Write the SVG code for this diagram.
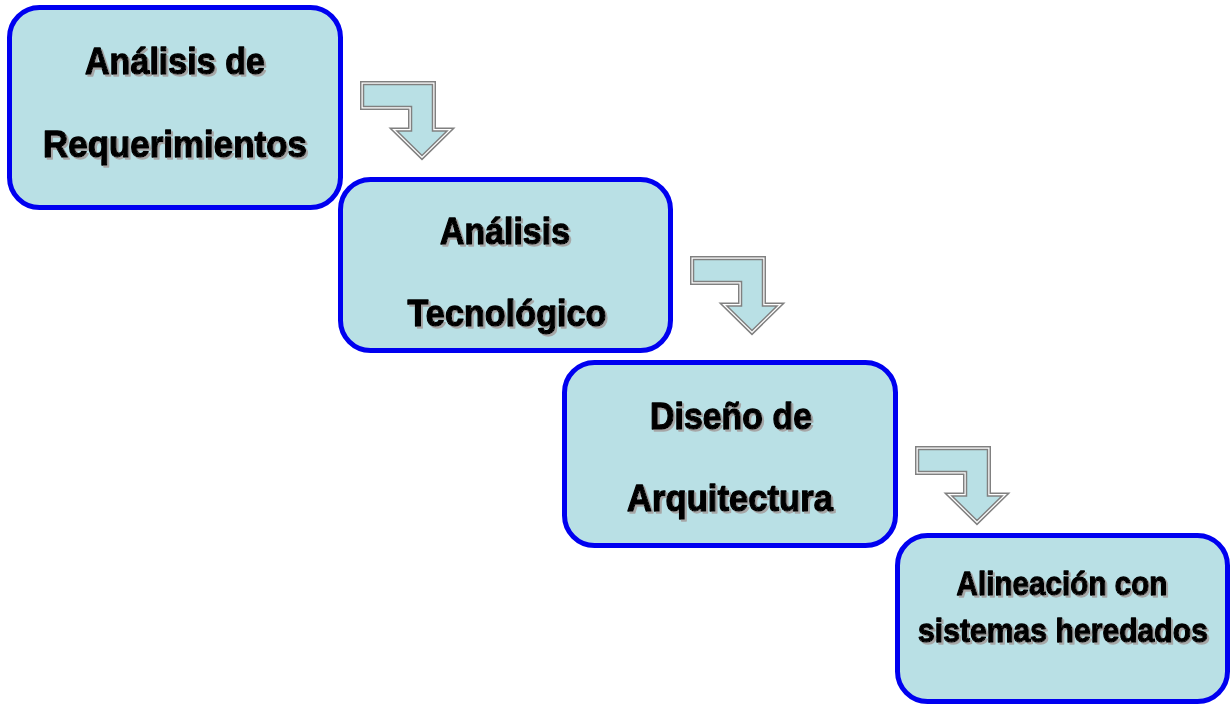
<svg xmlns="http://www.w3.org/2000/svg" width="1231" height="704" viewBox="0 0 1231 704">
<defs>
<filter id="sh" filterUnits="userSpaceOnUse" x="0" y="0" width="1231" height="704">
<feOffset in="SourceAlpha" dx="2" dy="2" result="o"/>
<feFlood flood-color="#a6a6a6"/>
<feComposite in2="o" operator="in" result="s"/>
<feMerge><feMergeNode in="s"/><feMergeNode in="SourceGraphic"/></feMerge>
</filter>
<path id="arr" d="M363.5,84.5 H432.5 V131 H447 L422,155.5 L397,131 H411.5 V106.5 H363.5 Z"/>
</defs>
<style>
.box{fill:#b9e0e5;stroke:#0000f0;stroke-width:5}
.lbl{filter:url(#sh)}
.t{font-family:"Liberation Sans",Arial,sans-serif;font-weight:bold;font-size:37px;fill:#000;stroke:#000;stroke-width:1.3;stroke-linejoin:round;text-anchor:middle}
.t4{font-size:34px}
.a1{fill:none;stroke:#808080;stroke-width:7;stroke-linejoin:miter}
.a2{fill:none;stroke:#ffffff;stroke-width:4;stroke-linejoin:miter}
.a3{fill:#b9e0e5;stroke:#808080;stroke-width:1.5;stroke-linejoin:miter}
</style>
<rect width="1231" height="704" fill="#ffffff"/>
<g id="connectors">
<g><use href="#arr" class="a1"/><use href="#arr" class="a2"/><use href="#arr" class="a3"/></g>
<g transform="translate(330,175)"><use href="#arr" class="a1"/><use href="#arr" class="a2"/><use href="#arr" class="a3"/></g>
<g transform="translate(555,365)"><use href="#arr" class="a1"/><use href="#arr" class="a2"/><use href="#arr" class="a3"/></g>
</g>
<g id="n1">
<rect class="box" x="9.5" y="7.5" width="331" height="200" rx="30"/>
<g class="lbl">
<text class="t" x="175" y="74" textLength="180" lengthAdjust="spacingAndGlyphs">Análisis de</text>
<text class="t" x="175" y="157" textLength="264" lengthAdjust="spacingAndGlyphs">Requerimientos</text>
</g>
</g>
<g id="n2">
<rect class="box" x="340.5" y="179.5" width="330" height="171" rx="30"/>
<g class="lbl">
<text class="t" x="505" y="244" textLength="130" lengthAdjust="spacingAndGlyphs">Análisis</text>
<text class="t" x="507" y="326" textLength="199" lengthAdjust="spacingAndGlyphs">Tecnológico</text>
</g>
</g>
<g id="n3">
<rect class="box" x="564.5" y="362.5" width="331" height="183" rx="30"/>
<g class="lbl">
<text class="t" x="731" y="429" textLength="162" lengthAdjust="spacingAndGlyphs">Diseño de</text>
<text class="t" x="730" y="511" textLength="206" lengthAdjust="spacingAndGlyphs">Arquitectura</text>
</g>
</g>
<g id="n4">
<rect class="box" x="897.5" y="535.5" width="330" height="166" rx="30"/>
<g class="lbl">
<text class="t t4" x="1062" y="595" textLength="211" lengthAdjust="spacingAndGlyphs">Alineación con</text>
<text class="t t4" transform="translate(1063,642) scale(0.887,1)" x="0" y="0">sistemas heredados</text>
</g>
</g>
</svg>
